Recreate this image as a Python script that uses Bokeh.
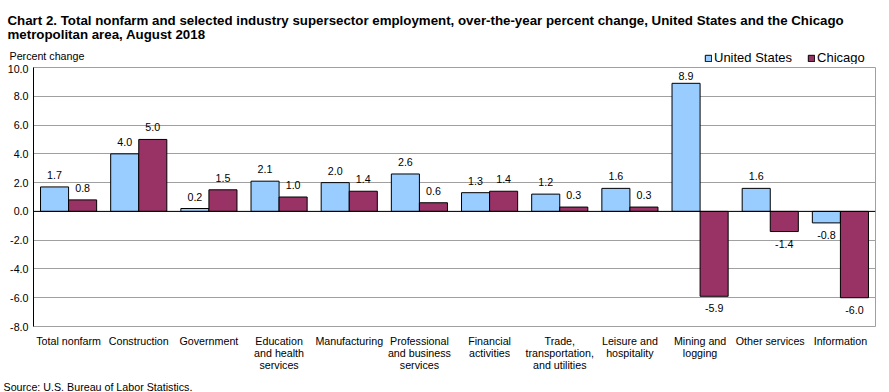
from bokeh.plotting import figure
from bokeh.layouts import column
from bokeh.models import (ColumnDataSource, Range1d, FixedTicker, NumeralTickFormatter,
                          Span, Label, Legend, LegendItem)
from bokeh.core.properties import value
from bokeh.embed import file_html
from bokeh.resources import INLINE

categories = ["Total nonfarm", "Construction", "Government", "Education\nand health\nservices",
              "Manufacturing", "Professional\nand business\nservices", "Financial\nactivities",
              "Trade,\ntransportation,\nand utilities", "Leisure and\nhospitality",
              "Mining and\nlogging", "Other services", "Information"]
united_states = [1.7, 4.0, 0.2, 2.1, 2.0, 2.6, 1.3, 1.2, 1.6, 8.9, 1.6, -0.8]
chicago = [0.8, 5.0, 1.5, 1.0, 1.4, 0.6, 1.4, 0.3, 0.3, -5.9, -1.4, -6.0]
y_ticks = [-8, -6, -4, -2, 0, 2, 4, 6, 8, 10]
series_names = ["United States", "Chicago"]

FONT = "Liberation Sans"
US_COLOR = "#99CCFF"
CHI_COLOR = "#993366"
GRID = "#A0A0A0"
Y_MIN, Y_MAX = -8, 10

W = 889
HEAD_H, MAIN_H, FOOT_H = 64, 312, 16
BL, BR, BT, BB = 33, 14, 3, 50
frame_h = MAIN_H - BT - BB
ppu = frame_h / (Y_MAX - Y_MIN)

xs = list(range(len(categories)))
us_src = ColumnDataSource(dict(x=[i - 0.2 for i in xs], top=united_states))
chi_src = ColumnDataSource(dict(x=[i + 0.2 for i in xs], top=chicago))


def blank(h):
    f = figure(width=W, height=h, output_backend="svg", toolbar_location=None,
               x_range=Range1d(0, W), y_range=Range1d(h, 0),
               x_axis_type=None, y_axis_type=None, frame_align=False,
               min_border_left=0, min_border_right=0, min_border_top=0, min_border_bottom=0)
    f.grid.visible = False
    f.outline_line_color = None
    f.title.visible = False
    return f


# ---------- header: title, y-axis caption, legend ----------
head = blank(HEAD_H)
title1 = "Chart 2. Total nonfarm and selected industry  supersector  employment, over-the-year percent change, United States and the Chicago"
title2 = "metropolitan area, August  2018"
for txt, yy in ((title1, 19.5), (title2, 33.5)):
    head.add_layout(Label(x=7, y=yy, text=txt, text_font=FONT, text_font_size="13.3px",
                          text_font_style="bold", text_color="black",
                          text_baseline="alphabetic"))
head.add_layout(Label(x=9, y=55, text="Percent change", text_font=FONT,
                      text_font_size="10.7px", text_color="black", text_baseline="alphabetic"))
# legend swatches reference the real series (hidden in this header strip)
lg_us = head.vbar(x="x", top="top", bottom=0, width=0.4, source=us_src,
                  fill_color=US_COLOR, line_color="black", line_width=1, visible=False)
lg_chi = head.vbar(x="x", top="top", bottom=0, width=0.4, source=chi_src,
                   fill_color=CHI_COLOR, line_color="black", line_width=1, visible=False)
legend = Legend(items=[LegendItem(label=series_names[0], renderers=[lg_us]),
                       LegendItem(label=series_names[1], renderers=[lg_chi])],
                location=(704, -1), orientation="horizontal",
                glyph_width=8, glyph_height=8, label_standoff=2, spacing=15,
                padding=0, margin=0, border_line_color=None, background_fill_alpha=0,
                inactive_fill_alpha=0, click_policy="none",
                label_text_font=FONT, label_text_font_size="13px", label_height=14,
                label_text_color="black")
head.add_layout(legend, "center")

# ---------- main chart ----------
p = figure(width=W, height=MAIN_H, output_backend="svg", toolbar_location=None,
           x_range=Range1d(-0.5, len(categories) - 0.5), y_range=Range1d(Y_MIN, Y_MAX),
           frame_align=False,
           min_border_left=BL, min_border_right=BR, min_border_top=BT, min_border_bottom=BB)
p.title.visible = False
p.outline_line_color = GRID
p.outline_line_width = 1

p.xgrid.visible = False
p.ygrid.ticker = FixedTicker(ticks=y_ticks)
p.ygrid.grid_line_color = GRID
p.ygrid.grid_line_width = 1

p.vbar(x="x", top="top", bottom=0, width=0.4, source=us_src,
       fill_color=US_COLOR, line_color="black", line_width=1)
p.vbar(x="x", top="top", bottom=0, width=0.4, source=chi_src,
       fill_color=CHI_COLOR, line_color="black", line_width=1)

p.add_layout(Span(location=0, dimension="width", line_color="black", line_width=1))


def label_source(xvals, vals):
    offs = []
    for v in vals:
        if v >= 0:
            offs.append(-min(12.0, (Y_MAX - v) * ppu - 8))
        else:
            offs.append(12.0)
    return ColumnDataSource(dict(x=xvals, y=vals, t=["%.1f" % v for v in vals], off=offs))


for src_x, vals in ((us_src.data["x"], united_states), (chi_src.data["x"], chicago)):
    p.text(x="x", y="y", text="t", y_offset="off", source=label_source(src_x, vals),
           text_align="center", text_baseline="middle", text_font=value(FONT),
           text_font_size="10.7px", text_color="black")

ya = p.yaxis[0]
ya.ticker = FixedTicker(ticks=y_ticks)
ya.formatter = NumeralTickFormatter(format="0.0")
ya.axis_line_color = "black"
ya.major_tick_line_color = None
ya.major_tick_in = 0
ya.major_tick_out = 0
ya.minor_tick_line_color = None
ya.major_label_standoff = 5
ya.major_label_text_font = FONT
ya.major_label_text_font_size = "10.7px"
ya.major_label_text_color = "black"

xa = p.xaxis[0]
xa.ticker = FixedTicker(ticks=xs)
xa.major_label_overrides = {i: c for i, c in zip(xs, categories)}
xa.axis_line_color = None
xa.major_tick_line_color = None
xa.major_tick_in = 0
xa.major_tick_out = 0
xa.minor_tick_line_color = None
xa.major_label_standoff = 8
xa.major_label_text_font = FONT
xa.major_label_text_font_size = "10.7px"
xa.major_label_text_line_height = 1.0
xa.major_label_text_color = "black"

# ---------- footer: source ----------
foot = blank(FOOT_H)
foot.add_layout(Label(x=3, y=10, text="Source: U.S. Bureau of Labor Statistics.",
                      text_font=FONT, text_font_size="10.7px", text_color="black",
                      text_baseline="alphabetic"))

layout = column(head, p, foot, spacing=0)
open("out.html", "w").write(file_html(layout, INLINE))
